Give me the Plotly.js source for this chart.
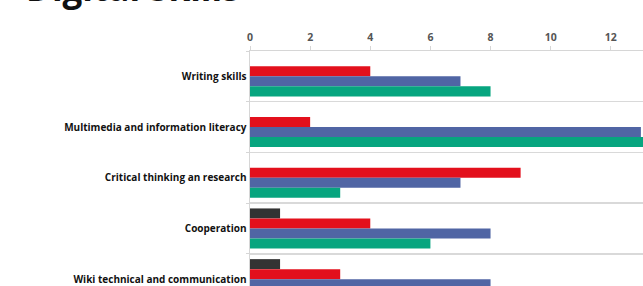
<!DOCTYPE html>
<html>
<head>
<meta charset="utf-8">
<script src="https://cdn.plot.ly/plotly-3.0.1.min.js"></script>
<style>
html,body{margin:0;padding:0;background:#fff;overflow:hidden;}
#chart{width:643px;height:286px;}
</style>
</head>
<body>
<div id="chart"></div>
<script>
const categories = [
  "Writing skills",
  "Multimedia and information literacy",
  "Critical thinking an research",
  "Cooperation",
  "Wiki technical and communication"
];
const seriesNames = ["Series 1", "Series 2", "Series 3", "Series 4"];
const blackValues = [0, 0, 0, 1, 1];
const redValues   = [4, 2, 9, 4, 3];
const blueValues  = [7, 13, 7, 8, 8];
const greenValues = [8, 14, 3, 6, 5];
const xTickValues = [0, 2, 4, 6, 8, 10, 12];
const titleText = "Digital Skills";

const colors = ["#333333", "#e3101c", "#5065a4", "#07a57f"];
const allValues = [blackValues, redValues, blueValues, greenValues];

const traces = allValues.map((vals, i) => ({
  type: "bar",
  orientation: "h",
  name: seriesNames[i],
  x: vals,
  y: categories,
  marker: {color: colors[i], line: {width: 0}},
  hoverinfo: "x+y"
}));

const layout = {
  width: 643,
  height: 286,
  margin: {l: 250, r: 0, t: 51, b: 0, pad: 0},
  paper_bgcolor: "#ffffff",
  plot_bgcolor: "#ffffff",
  showlegend: false,
  barmode: "group",
  bargap: 0.21,
  bargroupgap: 0,
  font: {family: "Open Sans, sans-serif", color: "#111"},
  xaxis: {
    side: "top",
    range: [0, 13.07],
    tickvals: xTickValues,
    ticktext: xTickValues.map(String),
    showgrid: false,
    zeroline: false,
    showline: true,
    linecolor: "#d6d6d6",
    linewidth: 1.5,
    ticks: "outside",
    ticklen: 4,
    tickcolor: "#d6d6d6",
    tickfont: {family: "Open Sans, sans-serif", size: 10.5, color: "#555", weight: "bold"}
  },
  yaxis: {
    type: "category",
    range: [4.135, -0.5],
    tickson: "boundaries",
    showgrid: true,
    gridcolor: "#d9d9d9",
    gridwidth: 1.5,
    showline: true,
    linecolor: "#d6d6d6",
    linewidth: 1.5,
    zeroline: false,
    ticks: "outside",
    ticklen: 3,
    tickcolor: "#d6d6d6",
    tickfont: {family: "Open Sans, sans-serif", size: 10, color: "#111", weight: "bold"}
  },
  annotations: [{
    text: titleText,
    xref: "paper", yref: "paper",
    x: -0.575, y: 1.16,
    xanchor: "left", yanchor: "bottom",
    showarrow: false,
    font: {family: "Open Sans, sans-serif", size: 35, color: "#111", weight: "bold"}
  }]
};

Plotly.newPlot("chart", traces, layout, {displayModeBar: false, staticPlot: true});
</script>
</body>
</html>
